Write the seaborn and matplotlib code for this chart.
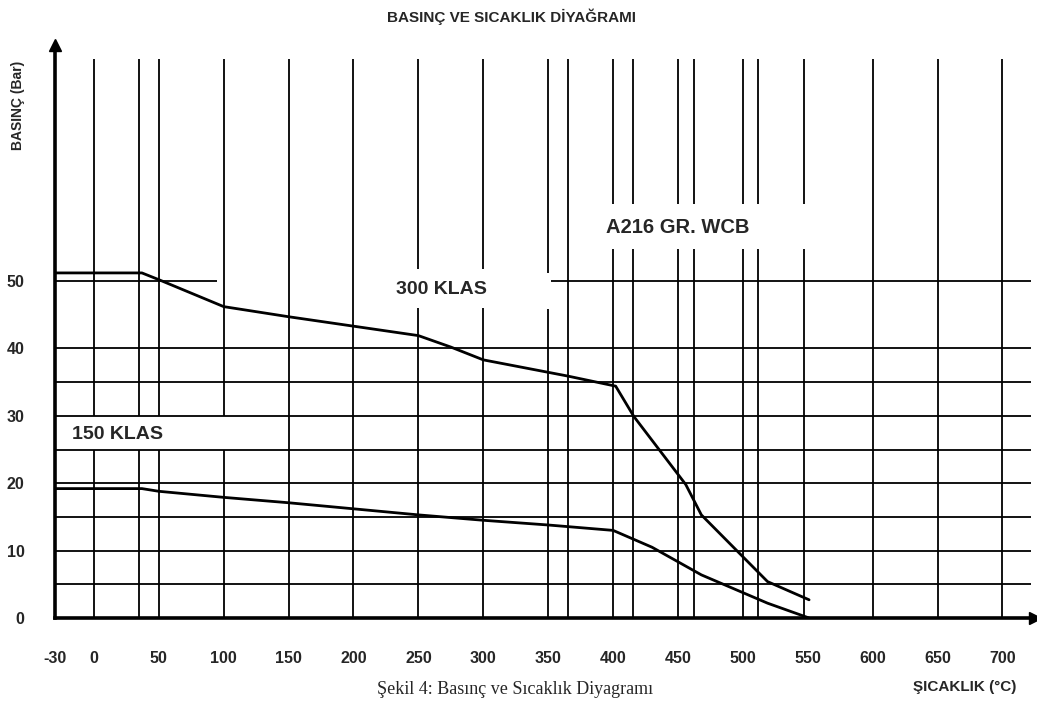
import matplotlib
matplotlib.use("Agg")
import matplotlib.pyplot as plt
import seaborn as sns
import pandas as pd

# ---- data ----
temp_300 = [-30, 37, 50, 100, 150, 200, 250, 275, 300, 365, 402, 416, 456, 468, 519, 551]
pres_300 = [51.2, 51.2, 50.2, 46.2, 44.7, 43.3, 41.9, 40.2, 38.3, 35.9, 34.4, 29.9, 19.8, 15.3, 5.4, 2.7]
temp_150 = [-30, 37, 50, 100, 150, 200, 250, 300, 350, 400, 430, 468, 519, 551]
pres_150 = [19.2, 19.2, 18.8, 17.9, 17.1, 16.2, 15.3, 14.5, 13.8, 13.0, 10.5, 6.4, 2.2, 0.0]

x_ticks = [-30, 0, 50, 100, 150, 200, 250, 300, 350, 400, 450, 500, 550, 600, 650, 700]
y_ticks = [0, 10, 20, 30, 40, 50]

grid_x = [0, 35, 50, 100, 150, 200, 250, 300, 350, 365, 400, 415, 450, 462, 500, 512, 547, 600, 650, 700]
gap_lo = [25, 25, 25, 25, None, None, 46.0, 46.0, 45.8, None, 54.8, 54.8, 54.8, 54.8, 54.8, 54.8, 54.8, None, None, None]
gap_hi = [30, 30, 30, 30, None, None, 51.8, 51.8, 51.2, None, 61.5, 61.5, 61.5, 61.5, 61.5, 61.5, 61.5, None, None, None]
grid_top = 83

grid_y = [5, 10, 15, 20, 25, 30, 35, 40]
grid_y_right = 722
grid50_segments = [(-30, 95), (352, 722)]

df = pd.DataFrame({
    "temp": temp_300 + temp_150,
    "pres": pres_300 + pres_150,
    "klas": ["300"] * len(temp_300) + ["150"] * len(temp_150),
})

sns.set_style("white")
plt.rcParams["font.family"] = ["Liberation Sans", "DejaVu Sans"]

fig = plt.figure(figsize=(10.37, 7.05), dpi=100)
ax = fig.add_axes([0.053, 0.1234, 0.945, 0.8126])
ax.set_xlim(-30, 725)
ax.set_ylim(0, 85)

# grid: vertical
for gx, lo, hi in zip(grid_x, gap_lo, gap_hi):
    if lo is None:
        ax.vlines(gx, 0, grid_top, color="black", lw=1.3)
    else:
        ax.vlines(gx, 0, lo, color="black", lw=1.3)
        ax.vlines(gx, hi, grid_top, color="black", lw=1.3)
# grid: horizontal
ax.hlines(grid_y, -30, grid_y_right, color="black", lw=1.3)
for a, b in grid50_segments:
    ax.hlines(50, a, b, color="black", lw=1.3)

sns.lineplot(data=df, x="temp", y="pres", hue="klas", units="klas", estimator=None,
             palette={"300": "black", "150": "black"}, sort=False, lw=2.0,
             legend=False, ax=ax)

ax.set_xlabel("")
ax.set_ylabel("")
ax.set_xticks(x_ticks)
ax.set_xticklabels([str(v) for v in x_ticks])
ax.set_yticks(y_ticks)
ax.set_yticklabels([str(v) for v in y_ticks])
ax.tick_params(axis="x", length=0, pad=24, labelsize=11.5)
ax.tick_params(axis="y", length=0, pad=22, labelsize=11.5)
for lab in ax.get_xticklabels() + ax.get_yticklabels():
    lab.set_fontweight("bold")

for s in ["top", "right"]:
    ax.spines[s].set_visible(False)
for s in ["left", "bottom"]:
    ax.spines[s].set_linewidth(2.6)
    ax.spines[s].set_color("black")
ax.plot(1, 0, ">k", transform=ax.transAxes, clip_on=False, ms=9)
ax.plot(0, 1, "^k", transform=ax.transAxes, clip_on=False, ms=9)

ax.text(268, 48.7, "300 KLAS", ha="center", va="center", fontsize=14, fontweight="bold")
ax.text(-17, 27.3, "150 KLAS", ha="left", va="center", fontsize=14, fontweight="bold")
ax.text(450, 58.0, "A216 GR. WCB", ha="center", va="center", fontsize=14.5, fontweight="bold")

fig.text(0.493, 0.976, "BASINÇ VE SICAKLIK DİYAĞRAMI", ha="center", va="center",
         fontsize=11, fontweight="bold")
fig.text(0.017, 0.851, "BASINÇ (Bar)", ha="center", va="center", rotation=90,
         fontsize=10, fontweight="bold")
fig.text(0.93, 0.026, "ŞICAKLIK (°C)", ha="center", va="center",
         fontsize=11, fontweight="bold")
fig.text(0.497, 0.022, "Şekil 4: Basınç ve Sıcaklık Diyagramı", ha="center", va="center",
         fontsize=13, family=["Liberation Serif", "DejaVu Serif"])

fig.savefig("out.png", dpi=100)
